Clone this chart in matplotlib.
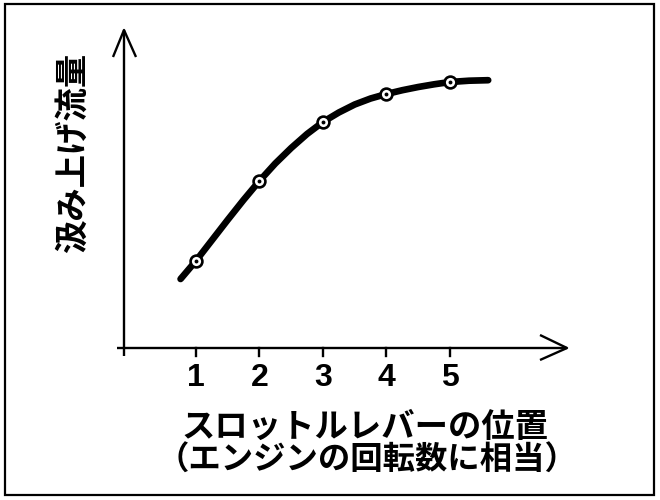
import matplotlib
matplotlib.use("Agg")
import matplotlib.pyplot as plt
from matplotlib.patches import Rectangle

# Data
curve_x = [0.76, 1.00, 1.25, 1.50, 1.75, 2.00, 2.25, 2.50, 2.75, 3.00,
           3.25, 3.50, 3.75, 4.00, 4.25, 4.50, 4.75, 5.00, 5.30, 5.60]
curve_y = [69, 87, 107.5, 128, 148, 167, 184.5, 200, 214, 226,
           235.5, 243.5, 249.5, 254, 257.8, 261, 263.7, 266, 267.3, 267.8]
point_x = [1, 2, 3, 4, 5]
point_y = [87, 167, 226, 254, 266]
tick_labels = ["1", "2", "3", "4", "5"]
xlabel_lines = ["スロットルレバーの位置", "（エンジンの回転数に相当）"]
ylabel = "汲み上げ流量"

plt.rcParams['font.family'] = ['Noto Sans CJK JP', 'DejaVu Sans']

W, H = 660, 500
fig = plt.figure(figsize=(6.6, 5.0), dpi=100)

def fx(px):
    return px / W

def fy(py):
    return (H - py) / H

# axes: y-axis at x px 124, x-axis at y px 348, top 30, right 567
ax = fig.add_axes([fx(124), fy(348), fx(567) - fx(124), fy(30) - fy(348)])
ax.set_xlim(-0.13, 6.84)
ax.set_ylim(0, 318)
for s in ax.spines.values():
    s.set_visible(False)
ax.set_xticks([])
ax.set_yticks([])
ax.patch.set_alpha(0)

# curve and markers
ax.plot(curve_x, curve_y, color='black', lw=4.8, solid_capstyle='round',
        solid_joinstyle='round', zorder=3)
ax.plot(point_x, point_y, 'o', ms=8.5, mfc='white', mec='black', mew=1.9, zorder=4)
ax.plot(point_x, point_y, 'o', ms=2.8, mfc='black', mec='black', mew=0, zorder=5)

# axis lines with open arrowheads (figure pixel coordinates)
lw_ax = 1.7
def fig_line(xs, ys):
    fig.add_artist(plt.Line2D([fx(v) for v in xs], [fy(v) for v in ys],
                              color='black', lw=lw_ax, transform=fig.transFigure,
                              solid_capstyle='butt'))

fig_line([124, 124], [356, 30])          # y axis (with small tick below)
fig_line([113, 124, 136], [57, 30, 57])  # y arrowhead
fig_line([117, 567], [348, 348])         # x axis
fig_line([540, 567, 540], [335, 348, 360])  # x arrowhead

# ticks
for xv, lab in zip(point_x, tick_labels):
    ax.plot([xv, xv], [0, -8], color='black', lw=lw_ax, clip_on=False)
    ax.annotate(lab, (xv, 0), xytext=(0, -30.5), textcoords='offset pixels',
                ha='center', va='center', fontsize=23, family='Liberation Sans',
                fontweight='bold')

# labels
fig.text(fx(365), fy(427), xlabel_lines[0], ha='center', va='center',
         fontsize=24, fontweight='bold')
fig.text(fx(367), fy(460), xlabel_lines[1], ha='center', va='center',
         fontsize=23.3, fontweight='bold')
fig.text(fx(73), fy(153), ylabel, ha='center', va='center', rotation=90,
         fontsize=24, fontweight='bold')

# frame
fig.add_artist(Rectangle((fx(5), fy(495)), fx(654) - fx(5), fy(4) - fy(495),
                         fill=False, lw=1.6, edgecolor='black',
                         transform=fig.transFigure))

fig.savefig("out.png", dpi=100, facecolor='white')
